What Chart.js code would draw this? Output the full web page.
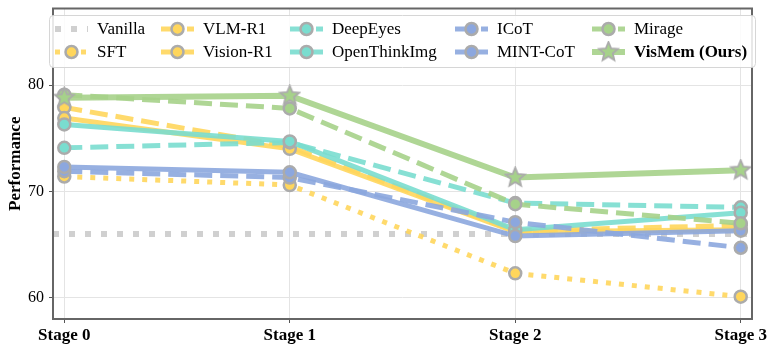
<!DOCTYPE html>
<html>
<head>
<meta charset="utf-8">
<script src="https://cdn.jsdelivr.net/npm/chart.js@4.4.1/dist/chart.umd.min.js"></script>
<style>
  html, body { margin: 0; padding: 0; background: #fff; }
</style>
</head>
<body>
<canvas id="perfChart" width="777" height="353"></canvas>
<script>
// ---- data ----
const stages = ['Stage 0', 'Stage 1', 'Stage 2', 'Stage 3'];
const yTicks = [60, 70, 80];

const vanilla      = [66.0, 66.0];
const sft          = [71.4, 70.6, 62.3, 60.1];
const vlmR1        = [77.9, 74.2, 66.3, 66.8];
const visionR1     = [76.9, 74.0, 66.2, 66.4];
const deepEyes     = [74.1, 74.6, 68.9, 68.5];
const openThinkImg = [76.3, 74.7, 66.4, 68.0];
const icot         = [71.9, 71.3, 67.1, 64.7];
const mintCot      = [72.3, 71.8, 65.8, 66.3];
const mirage       = [79.1, 77.8, 68.8, 67.0];
const visMem       = [78.8, 79.0, 71.3, 72.0];

// axis limits
const X_MIN = -0.05, X_MAX = 3.05;
const Y_MIN = 58.0, Y_MAX = 87.2;

// ---- styles ----
const YELLOW = 'rgba(255, 214, 92, 0.9)';
const CYAN   = 'rgba(122, 221, 207, 0.9)';
const BLUE   = 'rgba(140, 167, 222, 0.9)';
const GREEN  = 'rgba(166, 210, 138, 0.9)';
const EDGE   = '#ababab';
const DOTTED = [5, 8];
const DASHED = [18, 8];
const FONT   = '"Liberation Serif", "Times New Roman", serif';

// filled star marker for VisMem
function makeStar(size, fill) {
  const c = document.createElement('canvas');
  c.width = size; c.height = size;
  const g = c.getContext('2d');
  const cx = size / 2, cy = size / 2, ro = size / 2 - 1.5, ri = ro * 0.45;
  g.beginPath();
  for (let i = 0; i < 10; i++) {
    const r = i % 2 === 0 ? ro : ri;
    const a = -Math.PI / 2 + i * Math.PI / 5;
    const px = cx + r * Math.cos(a), py = cy + r * Math.sin(a);
    if (i === 0) g.moveTo(px, py); else g.lineTo(px, py);
  }
  g.closePath();
  g.fillStyle = fill;
  g.fill();
  g.lineWidth = 1.8;
  g.strokeStyle = EDGE;
  g.stroke();
  return c;
}
const starImg = makeStar(23, 'rgb(166, 210, 138)');

function toPoints(values) {
  return values.map((v, i) => ({ x: i, y: v }));
}

function series(label, values, color, dash, width) {
  return {
    label: label,
    data: toPoints(values),
    borderColor: color,
    backgroundColor: color,
    borderWidth: width || 5,
    borderDash: dash,
    pointRadius: 6,
    pointBorderWidth: 2.5,
    pointBorderColor: EDGE,
    pointBackgroundColor: color.replace('0.9)', '1)'),
    tension: 0
  };
}

const vismemSet = series('VisMem (Ours)', visMem, GREEN, [], 6);
vismemSet.pointStyle = starImg;

const vanillaSet = {
  label: 'Vanilla',
  data: [{ x: X_MIN, y: vanilla[0] }, { x: X_MAX, y: vanilla[1] }],
  borderColor: 'rgba(205, 205, 205, 0.95)',
  borderWidth: 6,
  borderDash: [6, 10],
  pointRadius: 0
};

// first dataset is drawn on top in Chart.js
const datasets = [
  vismemSet,
  series('Mirage', mirage, GREEN, DASHED),
  series('MINT-CoT', mintCot, BLUE, []),
  series('ICoT', icot, BLUE, DASHED),
  series('OpenThinkImg', openThinkImg, CYAN, []),
  series('DeepEyes', deepEyes, CYAN, DASHED),
  series('Vision-R1', visionR1, YELLOW, []),
  series('VLM-R1', vlmR1, YELLOW, DASHED),
  series('SFT', sft, YELLOW, DOTTED),
  vanillaSet
];

// legend grid like matplotlib (ncol = 5, filled by column)
const legendCols = [
  ['Vanilla', 'SFT'],
  ['VLM-R1', 'Vision-R1'],
  ['DeepEyes', 'OpenThinkImg'],
  ['ICoT', 'MINT-CoT'],
  ['Mirage', 'VisMem (Ours)']
];
const legendTextX = [97, 203, 332, 497, 634];
const legendRowY = [29, 52];

const framePlugin = {
  id: 'frame',
  afterDatasetsDraw(chart) {
    const { ctx, chartArea: a } = chart;
    ctx.save();
    ctx.strokeStyle = '#666';
    ctx.lineWidth = 2;
    ctx.strokeRect(a.left, a.top, a.right - a.left, a.bottom - a.top);
    ctx.restore();
  }
};

const legendPlugin = {
  id: 'gridLegend',
  afterDraw(chart) {
    const ctx = chart.ctx;
    ctx.save();
    ctx.beginPath();
    ctx.roundRect(49.5, 15.5, 706, 52, 4);
    ctx.fillStyle = 'rgba(255,255,255,0.85)';
    ctx.fill();
    ctx.strokeStyle = '#d6d6d6';
    ctx.lineWidth = 1;
    ctx.stroke();

    legendCols.forEach((col, ci) => {
      col.forEach((name, ri) => {
        const ds = chart.data.datasets.find(d => d.label === name);
        const tx = legendTextX[ci], y = legendRowY[ri];
        const x0 = tx - 42, x1 = tx - 9;
        ctx.save();
        ctx.beginPath();
        ctx.setLineDash(ds.borderDash || []);
        ctx.lineWidth = ds.borderWidth;
        ctx.strokeStyle = ds.borderColor;
        ctx.moveTo(x0, y);
        ctx.lineTo(x1, y);
        ctx.stroke();
        ctx.setLineDash([]);
        const mx = (x0 + x1) / 2;
        if (ds.pointStyle instanceof HTMLCanvasElement) {
          ctx.drawImage(ds.pointStyle, mx - ds.pointStyle.width / 2, y - ds.pointStyle.height / 2);
        } else if (ds.pointRadius) {
          ctx.beginPath();
          ctx.arc(mx, y, ds.pointRadius, 0, Math.PI * 2);
          ctx.fillStyle = ds.pointBackgroundColor;
          ctx.fill();
          ctx.lineWidth = ds.pointBorderWidth;
          ctx.strokeStyle = ds.pointBorderColor;
          ctx.stroke();
        }
        ctx.restore();
        ctx.fillStyle = '#000';
        ctx.textBaseline = 'middle';
        ctx.textAlign = 'left';
        ctx.font = (name === 'VisMem (Ours)' ? 'bold ' : '') + '17px ' + FONT;
        ctx.fillText(name, tx, y + 1);
      });
    });
    ctx.restore();
  }
};

const config = {
  type: 'line',
  data: { datasets: datasets },
  options: {
    responsive: false,
    animation: false,
    layout: { padding: { top: 7, right: 25, left: 0, bottom: 0 } },
    scales: {
      x: {
        type: 'linear',
        min: X_MIN,
        max: X_MAX,
        afterBuildTicks: scale => { scale.ticks = stages.map((s, i) => ({ value: i })); },
        afterFit: scale => {
          scale.height = 34;
          scale.paddingLeft = 0;
          scale.paddingRight = 0;
        },
        grid: { color: '#e4e4e4', lineWidth: 1, tickColor: '#555', tickLength: 4 },
        border: { display: false },
        ticks: {
          callback: v => stages[v],
          color: '#000',
          padding: 2,
          maxRotation: 0,
          font: { family: FONT, size: 17, weight: 'bold' }
        }
      },
      y: {
        min: Y_MIN,
        max: Y_MAX,
        afterBuildTicks: scale => { scale.ticks = yTicks.map(v => ({ value: v })); },
        afterFit: scale => {
          scale.width = 53;
          scale.paddingTop = 0;
          scale.paddingBottom = 0;
        },
        grid: { color: '#e4e4e4', lineWidth: 1, tickColor: '#555', tickLength: 4 },
        border: { display: false },
        ticks: {
          color: '#000',
          padding: 5,
          font: { family: FONT, size: 16 }
        },
        title: {
          display: true,
          text: 'Performance',
          color: '#000',
          padding: { top: 5, bottom: 0 },
          font: { family: FONT, size: 17, weight: 'bold' }
        }
      }
    },
    plugins: {
      legend: { display: false },
      tooltip: { enabled: false }
    }
  },
  plugins: [framePlugin, legendPlugin]
};

const ctx = document.getElementById('perfChart').getContext('2d');
new Chart(ctx, config);
</script>
</body>
</html>
